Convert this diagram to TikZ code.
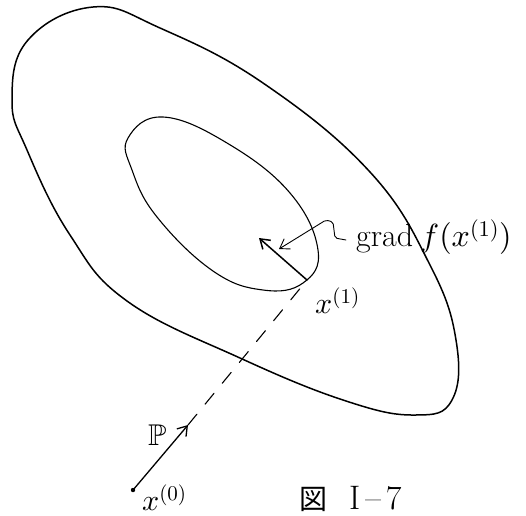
\documentclass[tikz,border=0pt]{standalone}
\usepackage{amsmath}
\usepackage{amssymb}
\usepackage{fontspec}
\newfontfamily\cjk{Noto Sans CJK JP}
\DeclareFontShape{OML}{cmm}{m}{it}{<-> cmmi10}{}
\DeclareFontShape{OT1}{cmr}{m}{n}{<-> cmr10}{}
\DeclareFontFamily{U}{msb}{}
\DeclareFontShape{U}{msb}{m}{n}{<-> msbm10}{}
\usepackage{tikz}
\usetikzlibrary{arrows.meta}

\begin{document}
\begin{tikzpicture}[>={Straight Barb[length=9pt,width=12pt]}, x=1pt, y=-1pt, line cap=round, line join=round,
    font=\fontsize{30}{34}\selectfont]
        \useasboundingbox (0,0) rectangle (526,515);
        % 外侧等高线
        \draw [line width=1.5pt] plot [smooth cycle, tension=0.7] coordinates {
            (93,7) (160,28) (263,83) (370,172) (430,265) (456,340) (452,400)
            (415,415) (346,401) (240,358) (127,301) (70,235) (27,150) (12,100) (28,40)};
        % 内侧等高线
        \draw [line width=1.1pt] plot [smooth cycle, tension=0.7] coordinates {
            (128,138) (163,117) (227,143) (290,193) (318,250) (303,283) (263,290)
            (213,271) (157,217) (132,170)};
        % 迭代点
        \coordinate (x1) at (307,280);
        \coordinate (x0) at (133,490);
        \coordinate (g) at (259,238);
        \coordinate (p) at (188,425);
        \coordinate (ga) at (279,249);
        \fill (x0) circle (2.2pt);
        % 搜索方向
        \draw [line width=1.1pt, dash pattern=on 14pt off 13pt] (p) -- (x1);
        \draw [->, line width=1.3pt] (x0) -- (p);
        % 梯度
        \draw [->, line width=1.5pt] (x1) -- (g);
        % 标注
        \node [anchor=base west, inner sep=0pt, font=\fontsize{32}{36}\selectfont] (lg) at (356,246) {$\mathrm{grad}\; f(x^{(1)})$};
        \draw [->, line width=0.9pt, rounded corners=2pt] (lg.base west) ++(-10,-6) -- ++(-11,-2) -- ++(-2,-16) -- ++(-7,-2) -- (ga);
        \node [anchor=base west, inner sep=0pt] (lx1) at (315,313) {$x^{(1)}$};
        \node [anchor=base west, inner sep=0pt] (lx0) at (142,510) {$x^{(0)}$};
        \node [anchor=base west, inner sep=0pt] (lp) at (148,445) {$\mathbb{P}$};
        \node [anchor=base west, inner sep=0pt, font=\fontsize{34}{38}\selectfont] (fig) at (299,509) {{\cjk\fontsize{28}{30}\selectfont 図}\hspace{22pt}I\hspace{5pt}--\hspace{5pt}7};
    \end{tikzpicture}
\end{document}
